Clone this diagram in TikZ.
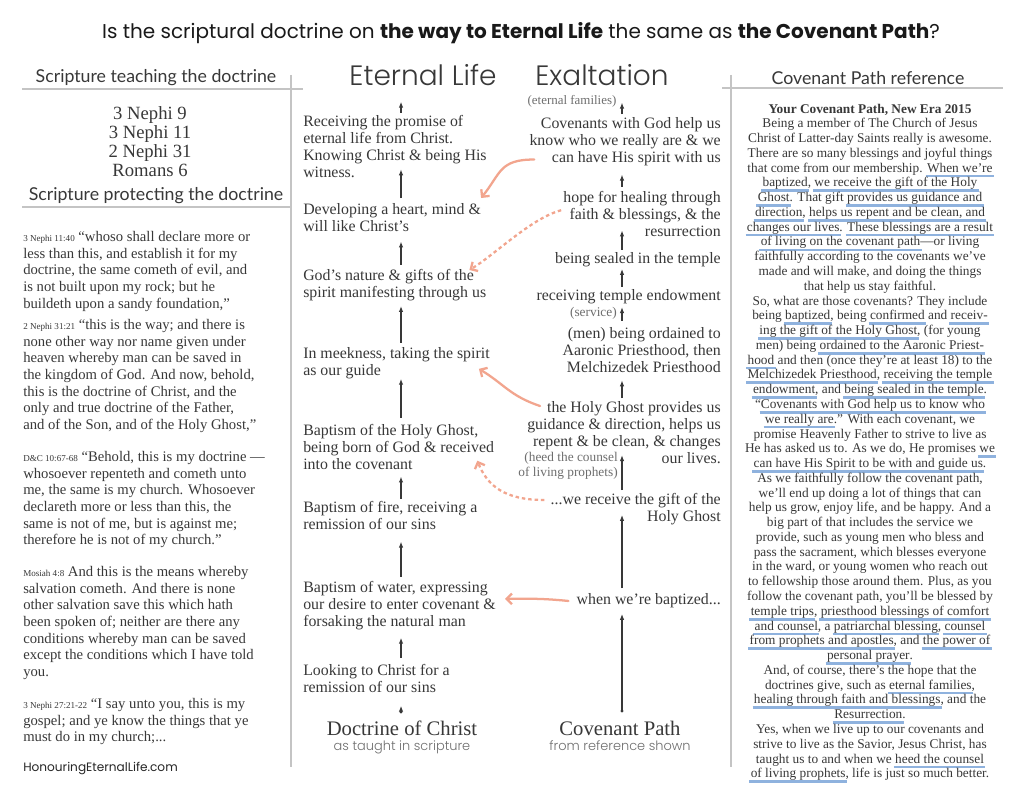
\documentclass[tikz,border=0pt]{standalone}
\usepackage{fontspec}
\setmainfont{Liberation Serif}
\newfontfamily\popfont{Poppins}
\IfFontExistsTF{Poppins Light}{\newfontfamily\poplight{Poppins Light}}{\newfontfamily\poplight{Poppins}}
\newfontfamily\headfont{Lato}
\usetikzlibrary{positioning,arrows.meta}

\definecolor{ink}{HTML}{383838}
\definecolor{soft}{HTML}{6E6E6E}
\definecolor{rulegray}{HTML}{C4C4C4}
\definecolor{salmon}{HTML}{F2A58E}
\definecolor{ulblue}{HTML}{8FB2DE}

\newcommand\fs[2]{\fontsize{#1}{#2}\selectfont}
% blue marker line under a phrase
\newcommand\hlu[1]{\setbox0\hbox{#1}\kern-1pt\rlap{\color{ulblue}\rule[-3.9pt]{\dimexpr\wd0+2pt\relax}{2pt}}\kern1pt\box0\relax}
\newcommand\vref[1]{{\fs{6.8}{8}#1}\ }

\begin{document}
\begin{tikzpicture}[
    x=0.75pt, y=-0.75pt,
    quotetext/.style={font=\fs{11}{12.5}, text=ink, align=left, anchor=north west, inner sep=0pt},
    stepL/.style={font=\fs{11.9}{12.6}, text=ink, align=left, anchor=north west, inner sep=0pt},
    stepR/.style={font=\fs{11.9}{12.6}, text=ink, align=right, anchor=north east, inner sep=0pt},
    asidetext/.style={font=\fs{10}{11.25}, text=soft, align=right, inner sep=0pt},
    colhead/.style={font=\headfont\fs{13.3}{15}, text=ink, inner sep=0pt},
    bighead/.style={font=\poplight\fs{21}{25}, text=ink, inner sep=0pt},
    roottext/.style={font=\fs{15.5}{18}, text=ink, inner sep=0pt},
    subtext/.style={font=\poplight\fs{9.7}{11}, text=soft, inner sep=0pt},
    seprule/.style={draw=rulegray, line width=1.1pt},
    uparrow/.style={-{Latex[length=4.5pt,width=3.4pt]}, line width=0.9pt, draw=ink},
    rooted/.style={{Circle[length=2.2pt]}-{Latex[length=4.5pt,width=3.4pt]}, line width=0.9pt, draw=ink},
    salarrow/.style={-{Straight Barb[length=4pt,width=8pt]}, line width=1.7pt, draw=salmon, line cap=round},
    saldash/.style={salarrow, dash pattern=on 2.6pt off 2.2pt, line cap=butt}
]
\useasboundingbox (0,0) rectangle (1024,791);
\fill[white] (0,0) rectangle (1024,791);

\node[font=\popfont\fs{15}{17}, text=black!90, inner sep=0pt] (title) at (521,33)
  {Is the scriptural doctrine on \textbf{the way to Eternal Life} the same as \textbf{the Covenant Path}?};

% column rules
\draw[seprule] (22,89) -- (303,89);
\draw[seprule] (22,207) -- (291,207);
\draw[seprule] (291,75) -- (291,767);
\draw[seprule] (722,88) -- (1003,88);
\draw[seprule] (731,75) -- (731,767);

% scripture column
\node[colhead] (teach) at (156,78) {Scripture teaching the doctrine};
\node[font=\fs{14}{14.2}, text=ink, align=center, anchor=north, inner sep=0pt] (chapters) at (150,106)
  {3 Nephi 9\\3 Nephi 11\\2 Nephi 31\\Romans 6};
\node[colhead] (protect) at (156,196) {Scripture protecting the doctrine};

\node[quotetext] (q1) at (23,231) {\vref{3 Nephi 11:40}“whoso shall declare more or\\
  less than this, and establish it for my\\doctrine, the same cometh of evil, and\\
  is not built upon my rock; but he\\buildeth upon a sandy foundation,”};
\node[quotetext] (q2) at (23,319) {\vref{2 Nephi 31:21}“this is the way; and there is\\
  none other way nor name given under\\heaven whereby man can be saved in\\
  the kingdom of God. And now, behold,\\this is the doctrine of Christ, and the\\
  only and true doctrine of the Father,\\and of the Son, and of the Holy Ghost,”};
\node[quotetext] (q3) at (23,451) {\vref{D\&C 10:67-68}“Behold, this is my doctrine —\\
  whosoever repenteth and cometh unto\\me, the same is my church. Whosoever\\
  declareth more or less than this, the\\same is not of me, but is against me;\\
  therefore he is not of my church.”};
\node[quotetext] (q4) at (23,566) {\vref{Mosiah 4:8}And this is the means whereby\\
  salvation cometh. And there is none\\other salvation save this which hath\\
  been spoken of; neither are there any\\conditions whereby man can be saved\\
  except the conditions which I have told\\you.};
\node[quotetext] (q5) at (23,698) {\vref{3 Nephi 27:21-22}“I say unto you, this is my\\
  gospel; and ye know the things that ye\\must do in my church;...};
\node[font=\popfont\fs{9.1}{10}, text=black!85, anchor=west, inner sep=0pt] (site) at (23,768) {HonouringEternalLife.com};

% eternal life chain
\coordinate (axL) at (401,0);
\coordinate (axR) at (622,0);
\node[bighead] (eternal) at (423,75.5) {Eternal Life};
\node[stepL] (life) at (303,115.5) {Receiving the promise of\\eternal life from Christ.\\Knowing Christ \& being His\\witness.};
\node[stepL] (heart) at (303,203.5) {Developing a heart, mind \&\\will like Christ’s};
\node[stepL] (nature) at (303,269.5) {God’s nature \& gifts of the\\spirit manifesting through us};
\node[stepL] (meek) at (303,347.5) {In meekness, taking the spirit\\as our guide};
\node[stepL] (ghost) at (303,424.5) {Baptism of the Holy Ghost,\\being born of God \& received\\into the covenant};
\node[stepL] (fire) at (303,501.5) {Baptism of fire, receiving a\\remission of our sins};
\node[stepL] (water) at (303,581.5) {Baptism of water, expressing\\our desire to enter covenant \&\\forsaking the natural man};
\node[stepL] (look) at (303,664.5) {Looking to Christ for a\\remission of our sins};
\node[roottext] (doctrine) at (402,728) {Doctrine of Christ};
\node[subtext, below=4pt of doctrine] (taught) {as taught in scripture};

\draw[uparrow, shorten <=1.9pt, shorten >=11.4pt] (life.north -| axL) -- (eternal.south -| axL);
\draw[uparrow, shorten <=4.1pt, shorten >=-6.4pt] (heart.north -| axL) -- (life.south -| axL);
\draw[uparrow, shorten <=3.4pt, shorten >=7.1pt] (nature.north -| axL) -- (heart.south -| axL);
\draw[uparrow, shorten <=3.4pt, shorten >=3.4pt] (meek.north -| axL) -- (nature.south -| axL);
\draw[uparrow, shorten <=4.9pt, shorten >=-0.4pt] (ghost.north -| axL) -- (meek.south -| axL);
\draw[uparrow, shorten <=1.9pt, shorten >=4.9pt] (fire.north -| axL) -- (ghost.south -| axL);
\draw[uparrow, shorten <=3.4pt, shorten >=8.6pt] (water.north -| axL) -- (fire.south -| axL);
\draw[uparrow, shorten <=4.9pt, shorten >=5.6pt] (look.north -| axL) -- (water.south -| axL);
\draw[rooted, shorten <=5.3pt, shorten >=9.4pt] (doctrine.north -| axL) -- (look.south -| axL);

% covenant path chain
\node[bighead] (exalt) at (602,75.5) {Exaltation};
\node[asidetext, font=\fs{9.7}{11}] (families) at (572,101) {(eternal families)};
\node[stepR] (covenants) at (721,117.5) {Covenants with God help us\\know who we really are \& we\\can have His spirit with us};
\node[stepR] (hope) at (721,191.5) {hope for healing through\\faith \& blessings, \& the\\resurrection};
\node[stepR] (sealed) at (721,252.5) {being sealed in the temple};
\node[stepR] (endow) at (721,289.5) {receiving temple endowment};
\node[stepR] (ordain) at (721,327.5) {(men) being ordained to\\Aaronic Priesthood, then\\Melchizedek Priesthood};
\node[stepR] (guide) at (721,401.5) {the Holy Ghost provides us\\guidance \& direction, helps us\\repent \& be clean, \& changes\\our lives.};
\node[stepR] (gift) at (721,493.5) {...we receive the gift of the\\Holy Ghost};
\node[stepR] (baptized) at (721,593.5) {when we’re baptized...};
\node[roottext] (covpath) at (620,728) {Covenant Path};
\node[subtext, below=4pt of covpath] (shown) {from reference shown};
\node[asidetext, anchor=east] (service) at (617,313) {(service)};
\node[asidetext, anchor=north east] (heed) at (618,452) {(heed the counsel\\of living prophets)};

\draw[uparrow, shorten <=2.6pt, shorten >=-3.5pt] (covenants.north -| axR) -- (families.south -| axR);
\draw[uparrow, shorten <=3.4pt, shorten >=6.4pt] (hope.north -| axR) -- (covenants.south -| axR);
\draw[uparrow, shorten <=1.9pt, shorten >=-4.9pt] (sealed.north -| axR) -- (hope.south -| axR);
\draw[uparrow, shorten <=1.9pt, shorten >=1.1pt] (endow.north -| axR) -- (sealed.south -| axR);
\draw[uparrow, shorten <=5pt, shorten >=2pt] (ordain.north -| axR) -- (endow.south -| axR);
\draw[uparrow, shorten <=2.6pt, shorten >=5.6pt] (guide.north -| axR) -- (ordain.south -| axR);
\draw[uparrow, shorten <=2.6pt, shorten >=-6.4pt] (gift.north -| axR) -- (guide.south -| axR);
\draw[uparrow, shorten <=4.1pt, shorten >=-7.9pt] (baptized.north -| axR) -- (gift.south -| axR);
\draw[rooted, shorten <=6pt, shorten >=4.1pt] (covpath.north -| axR) -- (baptized.south -| axR);

% links between the two paths
\draw[salarrow] ([shift={(5,-6.5)}]covenants.south west) .. controls +(-35,0) and +(20,-25) .. ([shift={(0,-5.5)}]heart.north east);
\draw[saldash] ([shift={(-2,-4)}]hope.west) .. controls +(-30,8) and +(25,-15) .. ([shift={(-17,0.5)}]nature.north east);
\draw[salarrow] ([shift={(13,4.5)}]guide.north west) .. controls +(-30,-10) and +(25,15) .. ([shift={(-11,5.5)}]meek.east);
\draw[saldash] ([shift={(-6,6.5)}]gift.north west) .. controls +(-40,0) and +(10,25) .. ([shift={(-17,13.5)}]ghost.east);
\draw[salarrow] ([shift={(-8,0)}]baptized.west) .. controls +(-30,-3) and +(20,0) .. ([shift={(9,-7)}]water.east);

% reference text
\node[colhead] (refhead) at (868,78) {Covenant Path reference};
\node[font=\fs{10}{11.08}, text=ink, align=center, anchor=north, inner sep=0pt] (article) at (870,103.5) {%
{\bfseries Your Covenant Path, New Era 2015}\\
Being a member of The Church of Jesus\\
Christ of Latter-day Saints really is awesome.\\
There are so many blessings and joyful things\\
that come from our membership. \hlu{When we’re}\\
\hlu{baptized}, \hlu{we receive the gift of the Holy}\\
\hlu{Ghost}. That gift \hlu{provides us guidance and}\\
\hlu{direction}, \hlu{helps us repent and be clean, and}\\
\hlu{changes our lives}. \hlu{These blessings are a result}\\
\hlu{of living on the covenant path}—or living\\
faithfully according to the covenants we’ve\\
made and will make, and doing the things\\
that help us stay faithful.\\
So, what are those covenants? They include\\
being \hlu{baptized}, being \hlu{confirmed} and \hlu{receiv-}\\
\hlu{ing the gift of the Holy Ghost}, (for young\\
men) being \hlu{ordained to the Aaronic Priest-}\\
\hlu{hood} and then (once they’re at least 18) to the\\
\hlu{Melchizedek Priesthood}, \hlu{receiving the temple}\\
\hlu{endowment}, and \hlu{being sealed in the temple}.\\
“\hlu{Covenants with God help us to know who}\\
\hlu{we really are}.” With each covenant, we\\
promise Heavenly Father to strive to live as\\
He has asked us to. As we do, He promises \hlu{we}\\
\hlu{can have His Spirit to be with and guide us}.\\
As we faithfully follow the covenant path,\\
we’ll end up doing a lot of things that can\\
help us grow, enjoy life, and be happy. And a\\
big part of that includes the service we\\
provide, such as young men who bless and\\
pass the sacrament, which blesses everyone\\
in the ward, or young women who reach out\\
to fellowship those around them. Plus, as you\\
follow the covenant path, you’ll be blessed by\\
\hlu{temple trips}, \hlu{priesthood blessings of comfort}\\
\hlu{and counsel}, a \hlu{patriarchal blessing}, \hlu{counsel}\\
\hlu{from prophets and apostles}, and \hlu{the power of}\\
\hlu{personal prayer}.\\
And, of course, there’s the hope that the\\
doctrines give, such as \hlu{eternal families},\\
\hlu{healing through faith and blessings}, and the\\
\hlu{Resurrection}.\\
Yes, when we live up to our covenants and\\
strive to live as the Savior, Jesus Christ, has\\
taught us to and when we \hlu{heed the counsel}\\
\hlu{of living prophets}, life is just so much better.};

\end{tikzpicture}
\end{document}
